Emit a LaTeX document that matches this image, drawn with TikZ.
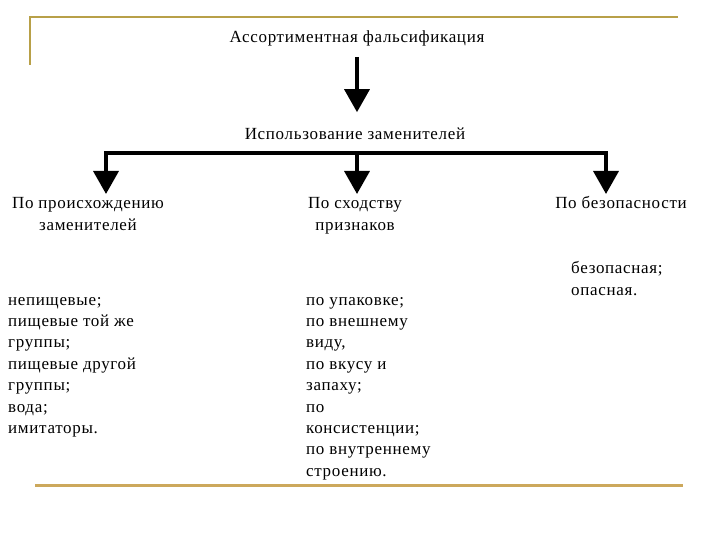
\documentclass[tikz,border=0pt]{standalone}
\usepackage{fontspec}
\setmainfont{Liberation Serif}[LetterSpace=4]
\usetikzlibrary{arrows.meta}

\definecolor{goldtop}{RGB}{184,160,72}
\definecolor{goldbottom}{RGB}{204,168,92}

\begin{document}
\begin{tikzpicture}[x=1pt,y=-1pt,font=\fontsize{17}{21}\selectfont,
  bigarrow/.style={line width=3.6pt,-{Triangle[width=25pt,length=23pt]}},
  head/.style={anchor=base,align=center,inner sep=0pt},
  item/.style={anchor=base west,inner sep=0pt}]
\def\gap{21.4}
\useasboundingbox (0,0) rectangle (720,540);

% Gold frame lines
\draw[goldtop,line width=2pt] (30,65) -- (30,17) -- (678,17);
\draw[goldbottom,line width=3pt] (35,485) -- (683,485);

% Titles
\node[head] (title) at (357,43) {Ассортиментная фальсификация};
\node[head] (use) at (355,140) {Использование заменителей};

% Three branches (base = last line)
\node[head] (orig) at (88,230) {По происхождению\\заменителей};
\node[head] (sim) at (355,230) {По сходству\\признаков};
\node[head] (safe) at (621,209) {По безопасности};

\coordinate (fork) at (357,153);
\coordinate (forkL) at (106,153);
\coordinate (forkR) at (606,153);

\draw[bigarrow,shorten <=10pt,shorten >=16pt] (title.south) -- (title.south |- use.north);
\draw[line width=3.6pt,line cap=rect] (forkL) -- (forkR);
\draw[bigarrow] (forkL) -- (forkL |- 0,194);
\draw[bigarrow] (fork) -- (fork |- 0,194);
\draw[bigarrow] (forkR) -- (forkR |- 0,194);

% Lists under each branch
\foreach \t [count=\i] in {непищевые;, пищевые той же, группы;, пищевые другой,
    группы;, вода;, имитаторы.}
  \node[item] (origitem\i) at (8,{305+\gap*(\i-1)}) {\t};
\foreach \t [count=\i] in {по упаковке;, по внешнему, {виду,}, по вкусу и,
    запаху;, по, консистенции;, по внутреннему, строению.}
  \node[item] (simitem\i) at (306,{305+\gap*(\i-1)}) {\t};
\foreach \t [count=\i] in {безопасная;, опасная.}
  \node[item] (safeitem\i) at (571,{273+22*(\i-1)}) {\t};
\end{tikzpicture}
\end{document}
